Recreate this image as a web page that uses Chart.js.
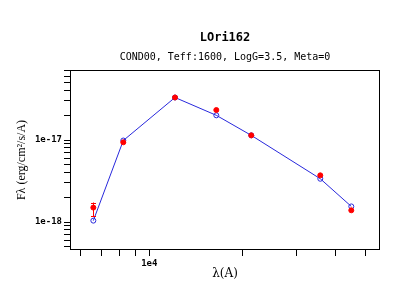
<!DOCTYPE html>
<html>
<head>
<meta charset="utf-8">
<script src="https://cdn.jsdelivr.net/npm/chart.js@4"></script>
<style>
html,body{margin:0;padding:0;background:#fff;}
#wrap{width:400px;height:300px;}
</style>
</head>
<body>
<div id="wrap"><canvas id="c" width="400" height="300"></canvas></div>
<script>
// ---- data ----
const lambdaA   = [6590, 8238, 12112, 16478, 21380, 35760, 45050];
const fluxObs   = [1.50e-18, 9.38e-18, 3.30e-17, 2.32e-17, 1.14e-17, 3.71e-18, 1.39e-18];
const obsLow    = [1.17e-18, 9.30e-18, 3.28e-17, 2.29e-17, 1.13e-17, 3.66e-18, 1.37e-18];
const obsHigh   = [1.73e-18, 9.46e-18, 3.32e-17, 2.35e-17, 1.15e-17, 3.76e-18, 1.41e-18];
const fluxModel = [1.04e-18, 9.86e-18, 3.30e-17, 2.00e-17, 1.14e-17, 3.37e-18, 1.55e-18];

const xTickValues = [6000, 7000, 8000, 9000, 10000, 20000, 30000, 40000, 50000];
const xTickLabels = ['', '', '', '', '1e4', '', '', '', ''];
const yTickValues = [5e-19, 6e-19, 7e-19, 8e-19, 9e-19, 1e-18, 2e-18, 3e-18, 4e-18, 5e-18, 6e-18, 7e-18, 8e-18, 9e-18,
                     1e-17, 2e-17, 3e-17, 4e-17, 5e-17, 6e-17, 7e-17];
const yTickLabels = ['', '', '', '', '', '1e-18', '', '', '', '', '', '', '', '',
                     '1e-17', '', '', '', '', '', ''];

const titleText = 'LOri162';
const subtitleText = 'COND00, Teff:1600, LogG=3.5, Meta=0';

const RED = 'rgb(255,0,0)';
const BLUE = 'rgb(40,40,220)';

const frame = {
  id: 'frame',
  afterDraw(chart) {
    const {ctx, chartArea: a} = chart;
    ctx.save();
    ctx.strokeStyle = '#000';
    ctx.lineWidth = 1;
    ctx.strokeRect(Math.round(a.left) + 0.5, Math.round(a.top) + 0.5,
                   Math.round(a.right - a.left) - 1, Math.round(a.bottom - a.top) - 1);
    ctx.restore();
  }
};

const errorBars = {
  id: 'errorBars',
  afterDatasetsDraw(chart) {
    const {ctx} = chart;
    const xs = chart.scales.x, ys = chart.scales.y;
    ctx.save();
    ctx.strokeStyle = RED;
    ctx.lineWidth = 1;
    for (let i = 0; i < lambdaA.length; i++) {
      const x = Math.round(xs.getPixelForValue(lambdaA[i])) + 0.5;
      const y1 = ys.getPixelForValue(obsHigh[i]);
      const y2 = ys.getPixelForValue(obsLow[i]);
      if (Math.abs(y2 - y1) < 6) continue;
      ctx.beginPath();
      ctx.moveTo(x, y1); ctx.lineTo(x, y2);
      ctx.moveTo(x - 2.5, Math.round(y1) + 0.5); ctx.lineTo(x + 2.5, Math.round(y1) + 0.5);
      ctx.moveTo(x - 2.5, Math.round(y2) + 0.5); ctx.lineTo(x + 2.5, Math.round(y2) + 0.5);
      ctx.stroke();
    }
    ctx.restore();
  }
};

new Chart(document.getElementById('c'), {
  type: 'line',
  data: {
    datasets: [
      {
        label: 'Observed',
        data: lambdaA.map((x, i) => ({x, y: fluxObs[i]})),
        showLine: false,
        pointStyle: 'circle',
        pointRadius: 2.5,
        pointBorderWidth: 1,
        pointBorderColor: RED,
        pointBackgroundColor: RED,
        borderColor: RED
      },
      {
        label: 'Model',
        data: lambdaA.map((x, i) => ({x, y: fluxModel[i]})),
        showLine: true,
        borderColor: BLUE,
        borderWidth: 1,
        tension: 0,
        pointStyle: 'circle',
        pointRadius: 2.5,
        pointBorderWidth: 1,
        pointBorderColor: BLUE,
        pointBackgroundColor: 'rgba(0,0,0,0)'
      }
    ]
  },
  options: {
    responsive: false,
    animation: false,
    devicePixelRatio: 1,
    layout: {padding: {left: 0, right: 20, top: 0, bottom: 0}},
    plugins: {
      legend: {display: false},
      tooltip: {enabled: false},
      title: {
        display: true, fullSize: false, text: titleText, color: '#000',
        font: {family: 'DejaVu Sans Mono', size: 12, weight: 'bold'},
        padding: {top: 31, bottom: 0}
      },
      subtitle: {
        display: true, fullSize: false, text: subtitleText, color: '#000',
        font: {family: 'DejaVu Sans Mono', size: 10},
        padding: {top: 6, bottom: 6.6}
      }
    },
    scales: {
      x: {
        type: 'logarithmic',
        min: 5538, max: 55800,
        afterFit(s) { s.height = 50; },
        afterBuildTicks(s) { s.ticks = xTickValues.map(v => ({value: v})); },
        ticks: {
          autoSkip: false, maxRotation: 0, minRotation: 0, padding: 2, color: '#000',
          font: {family: 'DejaVu Sans Mono', size: 9, weight: 'bold'},
          callback: (v) => { const i = xTickValues.indexOf(v); return i >= 0 ? xTickLabels[i] : ''; }
        },
        grid: {display: true, drawOnChartArea: false, drawTicks: true, tickLength: 6, color: '#000', lineWidth: 1},
        border: {display: false},
        title: {
          display: true, text: 'λ(A)', color: '#000',
          font: {family: 'DejaVu Serif', size: 12},
          padding: {top: 0, bottom: 19}
        }
      },
      y: {
        type: 'logarithmic',
        min: 4.56e-19, max: 7.14e-17,
        afterFit(s) { s.width = 70; },
        afterBuildTicks(s) { s.ticks = yTickValues.map(v => ({value: v})); },
        ticks: {
          autoSkip: false, padding: 2, color: '#000',
          font: {family: 'DejaVu Sans Mono', size: 9, weight: 'bold'},
          callback: (v) => {
            const i = yTickValues.findIndex(t => Math.abs(t - v) / t < 1e-6);
            return i >= 0 ? yTickLabels[i] : '';
          }
        },
        grid: {display: true, drawOnChartArea: false, drawTicks: true, tickLength: 6, color: '#000', lineWidth: 1},
        border: {display: false},
        title: {
          display: true, text: 'Fλ (erg/cm²/s/A)', color: '#000',
          font: {family: 'Liberation Serif', size: 12},
          padding: {top: 15, bottom: 0}
        }
      }
    }
  },
  plugins: [frame, errorBars]
});
</script>
</body>
</html>
